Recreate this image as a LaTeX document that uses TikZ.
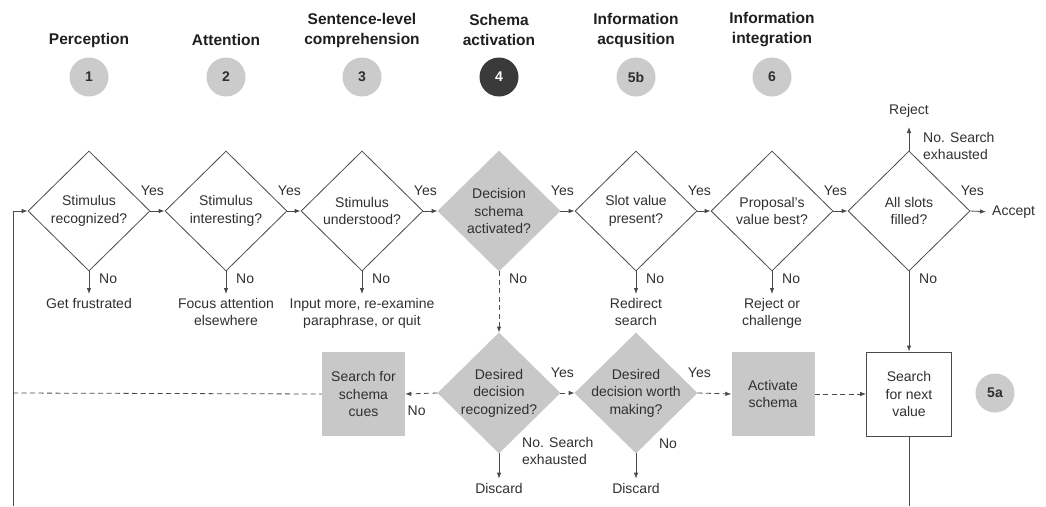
\documentclass[tikz,border=0pt]{standalone}
\usepackage{fontspec}
\setmainfont{Liberation Sans}
\usetikzlibrary{shapes.geometric,arrows.meta}
\definecolor{boxgrey}{HTML}{C8C8C8}
\definecolor{circgrey}{HTML}{CBCBCB}
\definecolor{darkc}{HTML}{3A3A3A}
\definecolor{txt}{HTML}{303030}
\definecolor{ln}{HTML}{4A4A4A}
\begin{document}
\begin{tikzpicture}[x=1pt,y=-1pt,
  font=\fontsize{14}{17.5}\selectfont, text=txt,
  dia/.style={diamond, draw=ln, line width=0.8pt, minimum width=122pt, minimum height=120pt, inner sep=0pt},
  gdia/.style={dia, fill=boxgrey, draw=boxgrey},
  tx/.style={align=center, inner sep=0pt},
  lab/.style={inner sep=0pt},
  box/.style={rectangle, minimum width=83pt, minimum height=84pt, inner sep=0pt, align=center},
  gbox/.style={box, fill=boxgrey},
  wbox/.style={box, minimum width=85pt, draw=ln, line width=0.8pt, fill=white},
  circ/.style={circle, fill=circgrey, minimum size=39pt, inner sep=0pt, font=\fontsize{14}{14}\selectfont\bfseries},
  hd/.style={align=center, inner sep=0pt, font=\fontsize{15.5}{20}\selectfont\bfseries, text=black!88},
  conn/.style={draw=ln, line width=0.8pt},
  arr/.style={conn, -{Latex[length=6pt,width=4.5pt]}},
  dsh/.style={arr, dash pattern=on 5pt off 3.5pt},
  dline/.style={conn, dash pattern=on 5pt off 3.5pt}
]
\useasboundingbox (0,0) rectangle (1046,506);

% headings
\node[hd] (h1) at (89,40) {Perception};
\node[hd] (h2) at (226,40) {Attention};
\node[hd] (h3) at (362,30) {Sentence-level\\comprehension};
\node[hd] (h4) at (499,30) {Schema\\activation};
\node[hd] (h5) at (636,30) {Information\\acqusition};
\node[hd] (h6) at (772,30) {Information\\integration};

% stage circles
\node[circ] (c1) at (89,77) {1};
\node[circ] (c2) at (226,77) {2};
\node[circ] (c3) at (362,77) {3};
\node[circ, fill=darkc, text=white] (c4) at (499,77) {4};
\node[circ] (c5) at (636,77) {5b};
\node[circ] (c6) at (772,77) {6};
\node[circ] (c5a) at (995,393) {5a};

% top row diamonds
\node[dia] (d1) at (89,211) {};
\node[tx] (t1) at (89,211) {Stimulus\\recognized?};
\node[dia] (d2) at (226,211) {};
\node[tx] (t2) at (226,211) {Stimulus\\interesting?};
\node[dia] (d3) at (362,211) {};
\node[tx] (t3) at (362,211) {Stimulus\\understood?};
\node[gdia] (d4) at (499,211) {};
\node[tx] (t4) at (499,211) {Decision\\schema\\activated?};
\node[dia] (d5) at (636,211) {};
\node[tx] (t5) at (636,211) {Slot value\\present?};
\node[dia] (d6) at (772,211) {};
\node[tx] (t6) at (772,211) {Proposal's\\value best?};
\node[dia] (d7) at (909,211) {};
\node[tx] (t7) at (909,211) {All slots\\filled?};

% top row connectors
\draw[arr] (d1.east) -- (d2.west);
\draw[arr] (d2.east) -- (d3.west);
\draw[arr] (d3.east) -- (d4.west);
\draw[arr] (d4.east) -- (d5.west);
\draw[arr] (d5.east) -- (d6.west);
\draw[arr] (d6.east) -- (d7.west);
\foreach \d in {d1,d2,d3,d4,d5,d6,d7}{
  \node[lab] (yes-\d) at ([xshift=2pt,yshift=20pt]\d.east) {Yes};
}
\foreach \d in {d1,d2,d3,d4,d5,d6,d7}{
  \node[lab, anchor=west] (no-\d) at ([xshift=10pt,yshift=-7pt]\d.south) {No};
}

% outcomes of top row
\node[tx, anchor=north] (o1) at (89,298) {Get frustrated};
\node[tx, anchor=north] (o2) at (226,298) {Focus attention\\elsewhere};
\node[tx, anchor=north] (o3) at (362,298) {Input more, re-examine\\paraphrase, or quit};
\node[tx, anchor=north] (o5) at (636,298) {Redirect\\search};
\node[tx, anchor=north] (o6) at (772,298) {Reject or\\challenge};
\draw[arr, shorten >=4pt] (d1.south) -- (o1.north);
\draw[arr, shorten >=4pt] (d2.south) -- (o2.north);
\draw[arr, shorten >=4pt] (d3.south) -- (o3.north);
\draw[arr, shorten >=4pt] (d5.south) -- (o5.north);
\draw[arr, shorten >=4pt] (d6.south) -- (o6.north);

% reject / accept
\node[lab] (rej) at (909,111) {Reject};
\coordinate (rejtip) at (909,127);
\draw[arr] (d7.north) -- (rejtip);
\node[tx, anchor=west, align=left] (nse) at (923,146) {No. Search\\exhausted};
\node[lab, anchor=west] (acc) at (992,212) {Accept};
\draw[arr, shorten >=6pt] (d7.east) -- (acc.west);

% lower row
\node[gbox] (sc) at (363.5,394) {Search for\\schema\\cues};
\node[gdia] (ld1) at (499,393) {};
\node[tx] (lt1) at (499,393) {Desired\\decision\\recognized?};
\node[gdia] (ld2) at (636,393) {};
\node[tx] (lt2) at (636,393) {Desired\\decision worth\\making?};
\node[gbox] (act) at (773,394) {Activate\\schema};
\node[wbox] (sn) at (909,394) {Search\\for next\\value};

\draw[dsh] (d4.south) -- (ld1.north);
\draw[dsh] (ld1.west) -- (sc.east);
\draw[dsh] (ld1.east) -- (ld2.west);
\draw[dsh] (ld2.east) -- (act.west);
\draw[dsh] (act.east) -- (sn.west);
\draw[arr] (d7.south) -- (sn.north);

\node[lab] (no-ld1) at ([xshift=-21pt,yshift=-18pt]ld1.west) {No};
\node[lab] (yes-ld1) at ([xshift=2pt,yshift=20pt]ld1.east) {Yes};
\node[lab] (yes-ld2) at ([xshift=2pt,yshift=20pt]ld2.east) {Yes};
\node[lab] (no-ld2) at ([xshift=32pt,yshift=10pt]ld2.south) {No};
\node[tx, anchor=west, align=left] (nse2) at (522,451) {No. Search\\exhausted};

\node[lab] (dis1) at (499,488) {Discard};
\node[lab] (dis2) at (636,488) {Discard};
\draw[arr, shorten >=4pt] (ld1.south) -- (dis1.north);
\draw[arr, shorten >=4pt] (ld2.south) -- (dis2.north);

% loop lines
\coordinate (lb) at (13,506);
\coordinate (lt) at (13,211);
\coordinate (lm) at (13,393);
\coordinate (sb) at (909,506);
\draw[arr] (lb) -- (lt) -- (d1.west);
\draw[dline] (lm) -- (sc.west);
\draw[conn] (sn.south) -- (sb);
\end{tikzpicture}
\end{document}
